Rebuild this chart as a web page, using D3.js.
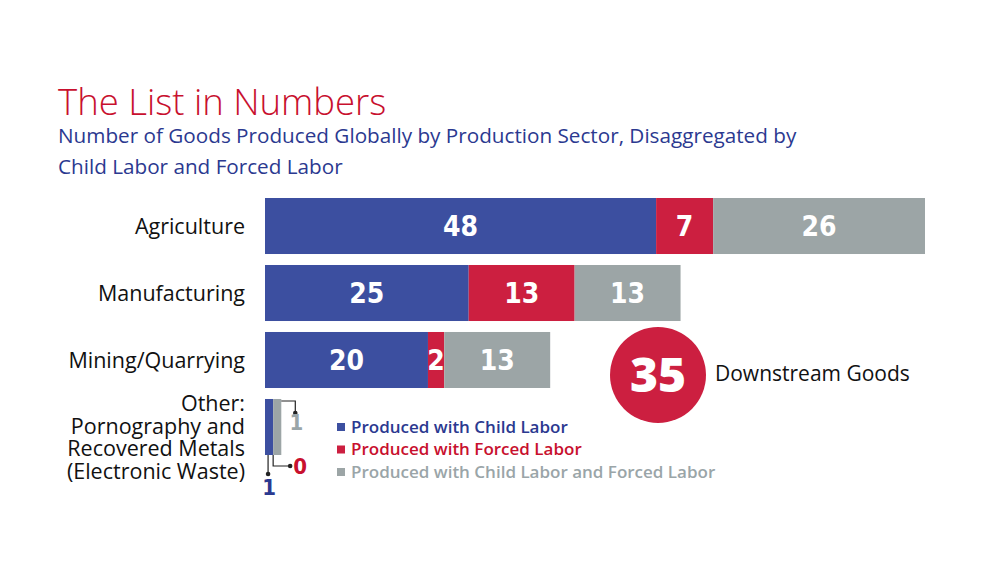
<!DOCTYPE html>
<html>
<head>
<meta charset="utf-8">
<script src="https://cdn.jsdelivr.net/npm/d3@7"></script>
<style>
  body { margin: 0; background: #fff; }
  svg { display: block; font-family: "Open Sans", "Noto Sans", sans-serif; }
</style>
</head>
<body>
<div id="main"></div>
<script>
const sectors = ['Agriculture', 'Manufacturing', 'Mining/Quarrying', 'Other'];
const childLabor = [48, 25, 20, 1];
const forcedLabor = [7, 13, 2, 0];
const bothLabor = [26, 13, 13, 1];
const seriesNames = ['Produced with Child Labor', 'Produced with Forced Labor', 'Produced with Child Labor and Forced Labor'];
const otherLines = ['Other:', 'Pornography and', 'Recovered Metals', '(Electronic Waste)'];
const downstreamGoods = 35;

const w = 1000;
const h = 573;

const colors = ['#3c4fa0', '#cc1f40', '#9ca5a6'];
const textColors = ['#2b3990', '#c8102e', '#9aa5a8'];

const rows = sectors.map((s, i) => ({ sector: s, values: [childLabor[i], forcedLabor[i], bothLabor[i]] }));

const svg = d3.select('#main').append('svg').attr('width', w).attr('height', h);

// title
svg.append('text').attr('x', 58).attr('y', 115)
    .style('font-size', '36.5px').style('font-weight', 300).attr('fill', '#c8102e')
    .text('The List in Numbers');

svg.append('text').attr('x', 58).attr('y', 143)
    .style('font-size', '20.7px').attr('fill', '#2b3990')
    .text('Number of Goods Produced Globally by Production Sector, Disaggregated by');
svg.append('text').attr('x', 58).attr('y', 174)
    .style('font-size', '20.7px').attr('fill', '#2b3990')
    .text('Child Labor and Forced Labor');

// scales
const x = d3.scaleLinear().domain([0, 81]).range([265, 925]);
const y = d3.scaleBand().domain(sectors).range([198, 455]).paddingInner(0.164).paddingOuter(0);

const g = svg.append('g');

rows.forEach(r => {
    let acc = 0;
    r.values.forEach((v, j) => {
        const x0 = x(acc), x1 = x(acc + v);
        acc += v;
        if (v === 0) return;
        g.append('rect')
            .attr('x', x0).attr('y', y(r.sector))
            .attr('width', x1 - x0).attr('height', y.bandwidth())
            .attr('fill', colors[j]);
        if (r.sector !== 'Other') {
            g.append('text')
                .attr('x', (x0 + x1) / 2).attr('y', y(r.sector) + y.bandwidth() / 2)
                .attr('dy', '0.36em').attr('text-anchor', 'middle')
                .style('font-family', '"DejaVu Sans Condensed", "DejaVu Sans", sans-serif')
                .style('font-weight', 'bold').style('font-size', '28px')
                .attr('fill', '#fff').text(v);
        }
    });
});

// category labels
rows.slice(0, 3).forEach(r => {
    g.append('text').attr('x', 245).attr('y', y(r.sector) + y.bandwidth() / 2)
        .attr('dy', '0.35em').attr('text-anchor', 'end')
        .style('font-size', '21.5px').attr('fill', '#111').text(r.sector);
});
const other = g.append('text').attr('x', 245).attr('y', 411).attr('text-anchor', 'end')
    .style('font-size', '21.5px').attr('fill', '#111');
otherLines.forEach((t, i) => {
    other.append('tspan').attr('x', 245).attr('y', 411 + i * 22.5).text(t);
});

// callouts for the small "Other" bar
const oy = y('Other'), ob = oy + y.bandwidth();
const o = rows[3].values;
const cx0 = x(0), cx1 = x(o[0]), cx2 = x(o[0] + o[1]), cx3 = x(o[0] + o[1] + o[2]);
const call = (pts) => {
    g.append('path').attr('d', d3.line()(pts)).attr('fill', 'none').attr('stroke', '#222').attr('stroke-width', 1.2);
    const last = pts[pts.length - 1];
    g.append('circle').attr('cx', last[0]).attr('cy', last[1]).attr('r', 2.3).attr('fill', '#222');
};
call([[cx3, oy + 2], [cx3 + 14, oy + 2], [cx3 + 14, oy + 14]]);
g.append('text').attr('x', cx3 + 15).attr('y', oy + 31).attr('text-anchor', 'middle')
    .style('font-family', '"DejaVu Sans Condensed", sans-serif').style('font-weight', 'bold')
    .style('font-size', '22px').attr('fill', textColors[2]).text(o[2]);
call([[cx2, ob], [cx2, ob + 11], [cx2 + 17, ob + 11]]);
g.append('text').attr('x', cx2 + 27).attr('y', ob + 19).attr('text-anchor', 'middle')
    .style('font-family', '"DejaVu Sans Condensed", sans-serif').style('font-weight', 'bold')
    .style('font-size', '22px').attr('fill', textColors[1]).text(o[1]);
call([[(cx0 + cx1) / 2 - 1, ob], [(cx0 + cx1) / 2 - 1, ob + 19]]);
g.append('text').attr('x', (cx0 + cx1) / 2).attr('y', ob + 40).attr('text-anchor', 'middle')
    .style('font-family', '"DejaVu Sans Condensed", sans-serif').style('font-weight', 'bold')
    .style('font-size', '22px').attr('fill', textColors[0]).text(o[0]);

// legend
seriesNames.forEach((n, i) => {
    const ly = 427 + i * 22.5;
    g.append('rect').attr('x', 337).attr('y', ly - 4).attr('width', 8).attr('height', 8).attr('fill', colors[i]);
    g.append('text').attr('x', 351).attr('y', ly).attr('dy', '0.35em')
        .style('font-size', '17px').style('font-weight', 600).attr('fill', textColors[i]).text(n);
});

// downstream goods
g.append('circle').attr('cx', 658).attr('cy', 375).attr('r', 48).attr('fill', '#cc1f40');
g.append('text').attr('x', 658).attr('y', 375).attr('dy', '0.36em').attr('text-anchor', 'middle')
    .style('font-family', '"Open Sans", sans-serif').style('font-weight', 800)
    .style('font-size', '48px').attr('fill', '#fff').text(downstreamGoods);
g.append('text').attr('x', 715).attr('y', 381)
    .style('font-size', '21px').attr('fill', '#111').text('Downstream Goods');
</script>
</body>
</html>
